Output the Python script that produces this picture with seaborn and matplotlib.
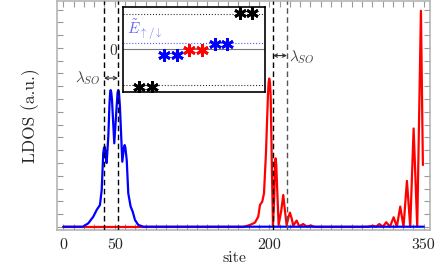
import numpy as np
import seaborn as sns
import matplotlib.pyplot as plt

# ---- LDOS curves (site, LDOS in a.u.) ----
blue_site = [0, 10, 19, 24.3, 29.1, 32.4, 35.6, 37.3, 38.8, 39.5, 40.2, 40.9, 42.1, 43.7,
             44.9, 45.5, 46.0, 46.6, 47.3, 49.5, 51.8, 52.7, 53.4, 54.1, 55.0, 57.3,
             58.9, 59.6, 60.3, 61.6, 63.1, 65.4, 67.4, 69.6, 72.8, 77.7, 100, 200, 300, 350]
blue_ldos = [0.02, 0.02, 0.02, 0.29, 0.80, 1.33, 1.72, 2.89, 5.78, 6.15, 6.27, 5.9, 5.0, 7.05,
             9.7, 10.5, 10.7, 10.5, 9.92, 6.54, 9.4, 10.5, 10.7, 10.5, 9.4, 5.1,
             6.2, 6.4, 6.2, 5.23, 2.63, 1.59, 1.2, 0.55, 0.16, 0.02, 0.02, 0.02, 0.02, 0.02]

red_site = [0, 100, 175, 181.3, 186.1, 189.3, 191, 193.2, 194.9, 196.8, 198.7, 199.4, 200,
            200.7, 201.4, 202.6, 203.6, 204.9, 205.6, 206.2, 206.8, 207.5, 209.1, 211.7,
            213.6, 215.2, 216.9, 218.8, 220.1, 221.7, 223.3, 226.6, 229.1, 233, 236.3,
            240.5, 244, 260, 290, 296.5, 300.4, 303.8, 306.8, 310.4, 313.6, 317.2, 320.8,
            323.9, 327.2, 330.4, 333.7, 336.9, 340.2, 343.7, 347.3, 349.2]
red_ldos = [0, 0, 0, 0.16, 0.34, 0.8, 1.72, 1.98, 2.63, 5.76, 10.2, 11.3, 11.6,
            11.3, 10.2, 4.45, 0.15, 2.4, 4.9, 5.36, 4.9, 3.4, 0.15, 1.3,
            2.5, 1.3, 0.15, 0.8, 1.12, 0.68, 0.1, 0.5, 0.05, 0.23, 0.03,
            0.12, 0, 0, 0, 0.02, 0.1, 0.02, 0.23, 0.02, 0.37, 0.02, 0.76,
            0.02, 1.59, 0.02, 3.6, 0.02, 7.7, 0.02, 16.9, 4.84]

# dashed guide lines (sites) and lambda_SO arrows
left_guides = [39.5, 53.1]
right_guides = [203.6, 217.2]

# ---- inset: energy levels ----
level_index = [1, 2, 3, 4, 5, 6, 7, 8, 9, 10]
level_energy = [-1.07, -1.07, -0.16, -0.16, -0.02, -0.02, 0.15, 0.15, 1.04, 1.04]
level_color = ["black", "black", "blue", "blue", "red", "red", "blue", "blue", "black", "black"]
e_fermi = 0.17

x_ticks = list(range(0, 351, 10))
x_labels = [str(t) if t in (0, 50, 200, 350) else "" for t in x_ticks]

sns.set_style("ticks")
plt.rcParams["font.family"] = ["cmr10", "DejaVu Serif"]
plt.rcParams["mathtext.fontset"] = "cm"
plt.rcParams["axes.formatter.use_mathtext"] = True

fig = plt.figure(figsize=(4.36, 2.76), dpi=100)
ax = fig.add_axes([0.131, 0.167, 0.855, 0.831])

sns.lineplot(x=red_site, y=red_ldos, color=(1, 0, 0), lw=1.6, sort=False,
             estimator=None, ax=ax, zorder=2)
sns.lineplot(x=blue_site, y=blue_ldos, color=(0, 0, 1), lw=1.6, sort=False,
             estimator=None, ax=ax, zorder=2)

for x in left_guides + right_guides[:1]:
    ax.axvline(x, color="black", ls=(0, (4, 2.5)), lw=1.0, zorder=3)
ax.axvline(right_guides[1], color="#555555", ls=(0, (4, 2.5)), lw=1.0, zorder=3)

arrow_kw = dict(arrowstyle="<->", color="#333333", lw=0.8, shrinkA=0, shrinkB=0,
                mutation_scale=6)
ax.annotate("", xy=(left_guides[0], 11.64), xytext=(left_guides[1], 11.64),
            arrowprops=arrow_kw)
ax.annotate("", xy=(right_guides[0], 13.4), xytext=(right_guides[1], 13.4),
            arrowprops=arrow_kw)
ax.text(35.8, 11.64, r"$\lambda_{SO}$", ha="right", va="center", color="#444444",
        fontsize=11)
ax.text(219.5, 13.3, r"$\lambda_{SO}$", ha="left", va="center", color="#444444",
        fontsize=11)

ax.set_xlim(-6, 356)
ax.set_ylim(-0.23, 17.7)
ax.set_xticks(x_ticks)
ax.set_xticklabels(x_labels)
ax.set_yticks(range(0, 18))
ax.set_yticklabels([])
ax.tick_params(direction="in", top=True, right=True, length=4, width=0.8,
               color="#999999", labelsize=11.5, pad=6)
for s in ax.spines.values():
    s.set_color("#b5b5b5")
    s.set_linewidth(1.2)
ax.set_xlabel("site", fontsize=11.5)
ax.xaxis.set_label_coords(0.475, -0.095)
ax.set_ylabel("LDOS (a.u.)", fontsize=12.5)
ax.yaxis.set_label_coords(-0.047, 0.5)

# ---- inset ----
ins = fig.add_axes([0.282, 0.667, 0.326, 0.309])
ins.set_facecolor("white")
ins.axhline(0, color="#777777", lw=0.8)
ins.axhline(1, color="#333333", ls=":", lw=0.8)
ins.axhline(-1, color="#333333", ls=":", lw=0.8)
ins.axhline(e_fermi, color="#5555ff", ls=":", lw=0.8)
for i, e, c in zip(level_index, level_energy, level_color):
    ins.plot([i], [e], ls="", marker=(6, 2, 0), ms=9, mew=2.0, color=c)
ins.text(0.05, 0.2, r"$\tilde{E}_{\uparrow/\downarrow}$", color="#6666ff",
         fontsize=11, ha="left", va="bottom")
ins.set_xlim(-0.27, 11.0)
ins.set_ylim(-1.21, 1.22)
ins.set_xticks([])
ins.set_yticks([0])
ins.set_yticklabels(["0"])
ins.tick_params(length=0, pad=4, labelsize=11, labelcolor="#333333")
for s in ins.spines.values():
    s.set_color("black")
    s.set_linewidth(1.2)

plt.savefig("out.png", dpi=100)
